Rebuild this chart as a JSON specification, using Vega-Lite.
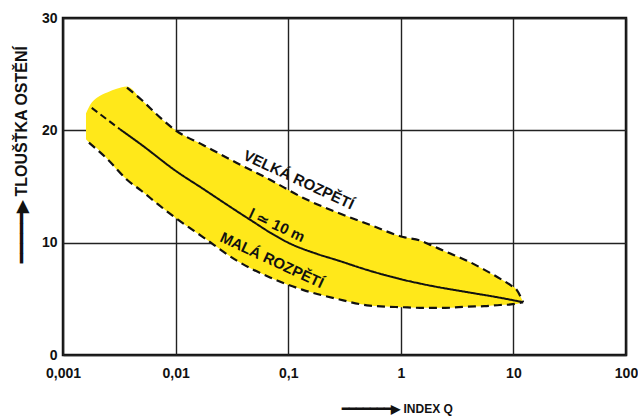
{
  "$schema": "https://vega.github.io/schema/vega-lite/v6.json",
  "width": 563,
  "height": 337,
  "autosize": "none",
  "padding": {"left": 63, "top": 18, "right": 12, "bottom": 61},
  "background": "white",
  "config": {
    "font": "Liberation Sans",
    "view": {"stroke": "#111", "strokeWidth": 2.5},
    "axis": {
      "labelFont": "Liberation Sans", "labelFontWeight": "bold", "labelFontSize": 14, "labelColor": "#111",
      "titleFont": "Liberation Sans", "titleFontWeight": "bold", "titleColor": "#111",
      "grid": true, "gridColor": "#222", "gridWidth": 1.4, "gridOpacity": 1,
      "domain": false, "ticks": false, "zindex": 1, "labelFlush": false
    }
  },
  "datasets": {
    "band": [
      {"x": 0.0016, "lo": 19.2, "hi": 21.5},
      {"x": 0.00175, "lo": 18.8, "hi": 22.3},
      {"x": 0.002, "lo": 18.4, "hi": 22.9},
      {"x": 0.0025, "lo": 17.4, "hi": 23.4},
      {"x": 0.003, "lo": 16.5, "hi": 23.7},
      {"x": 0.0037, "lo": 15.6, "hi": 23.9},
      {"x": 0.005, "lo": 14.6, "hi": 22.7},
      {"x": 0.007, "lo": 13.4, "hi": 21.3},
      {"x": 0.01, "lo": 12.2, "hi": 20.0},
      {"x": 0.0175, "lo": 10.5, "hi": 18.7},
      {"x": 0.035, "lo": 8.4, "hi": 17.1},
      {"x": 0.069, "lo": 6.9, "hi": 15.6},
      {"x": 0.135, "lo": 5.8, "hi": 14.0},
      {"x": 0.27, "lo": 5.0, "hi": 12.7},
      {"x": 0.53, "lo": 4.4, "hi": 11.6},
      {"x": 1.05, "lo": 4.25, "hi": 10.5},
      {"x": 1.48, "lo": 4.2, "hi": 10.2},
      {"x": 1.93, "lo": 4.2, "hi": 9.7},
      {"x": 2.5, "lo": 4.2, "hi": 9.2},
      {"x": 3.87, "lo": 4.3, "hi": 8.4},
      {"x": 5.5, "lo": 4.35, "hi": 7.6},
      {"x": 7.6, "lo": 4.45, "hi": 6.8},
      {"x": 9.5, "lo": 4.5, "hi": 6.2},
      {"x": 10.7, "lo": 4.55, "hi": 5.8},
      {"x": 12.2, "lo": 4.7, "hi": 4.7}
    ],
    "upper": [
      {"x": 0.0037, "y": 23.8},
      {"x": 0.005, "y": 22.7},
      {"x": 0.007, "y": 21.3},
      {"x": 0.01, "y": 20.0},
      {"x": 0.0175, "y": 18.7},
      {"x": 0.035, "y": 17.1},
      {"x": 0.069, "y": 15.6},
      {"x": 0.135, "y": 14.0},
      {"x": 0.27, "y": 12.7},
      {"x": 0.53, "y": 11.6},
      {"x": 1.05, "y": 10.5},
      {"x": 1.48, "y": 10.2},
      {"x": 1.93, "y": 9.7},
      {"x": 2.5, "y": 9.2},
      {"x": 3.87, "y": 8.4},
      {"x": 5.5, "y": 7.6},
      {"x": 7.6, "y": 6.8},
      {"x": 9.5, "y": 6.2},
      {"x": 10.7, "y": 5.8},
      {"x": 12.2, "y": 4.7}
    ],
    "lower": [
      {"x": 0.0017, "y": 18.9},
      {"x": 0.0025, "y": 17.4},
      {"x": 0.0037, "y": 15.6},
      {"x": 0.005, "y": 14.6},
      {"x": 0.007, "y": 13.4},
      {"x": 0.01, "y": 12.2},
      {"x": 0.0175, "y": 10.5},
      {"x": 0.035, "y": 8.4},
      {"x": 0.069, "y": 6.9},
      {"x": 0.135, "y": 5.8},
      {"x": 0.27, "y": 5.0},
      {"x": 0.53, "y": 4.4},
      {"x": 1.05, "y": 4.25},
      {"x": 1.48, "y": 4.2},
      {"x": 2.5, "y": 4.2},
      {"x": 3.87, "y": 4.3},
      {"x": 5.5, "y": 4.35},
      {"x": 7.6, "y": 4.45},
      {"x": 9.5, "y": 4.5},
      {"x": 12.2, "y": 4.7}
    ],
    "center": [
      {"x": 0.0018, "y": 22.0, "part": "a"},
      {"x": 0.0032, "y": 20.1, "part": "a"},
      {"x": 0.0032, "y": 20.1, "part": "b"},
      {"x": 0.005, "y": 18.7, "part": "b"},
      {"x": 0.01, "y": 16.4, "part": "b"},
      {"x": 0.0175, "y": 14.8, "part": "b"},
      {"x": 0.035, "y": 12.8, "part": "b"},
      {"x": 0.05, "y": 11.8, "part": "b"},
      {"x": 0.069, "y": 10.9, "part": "b"},
      {"x": 0.1, "y": 10.0, "part": "b"},
      {"x": 0.18, "y": 9.0, "part": "b"},
      {"x": 0.27, "y": 8.45, "part": "b"},
      {"x": 0.53, "y": 7.5, "part": "b"},
      {"x": 1.0, "y": 6.75, "part": "b"},
      {"x": 2.0, "y": 6.1, "part": "b"},
      {"x": 3.87, "y": 5.6, "part": "b"},
      {"x": 7.6, "y": 5.1, "part": "b"},
      {"x": 12.2, "y": 4.7, "part": "b"}
    ],
    "labels": [
      {"x": 0.124, "y": 15.6, "text": "VELKÁ ROZPĚTÍ"},
      {"x": 0.0794, "y": 11.55, "text": "l ≃ 10 m"},
      {"x": 0.0718, "y": 8.44, "text": "MALÁ ROZPĚTÍ"}
    ]
  },
  "encoding": {
    "x": {
      "field": "x", "type": "quantitative",
      "scale": {"type": "log", "domain": [0.001, 100], "nice": false},
      "axis": {
        "values": [0.001, 0.01, 0.1, 1, 10, 100],
        "labelExpr": "replace(datum.value + '', '.', ',')",
        "labelPadding": 11,
        "title": "━━━━━━━▶ INDEX Q",
        "titleFontSize": 12,
        "titleX": 334, "titleY": 53, "titleAlign": "center", "titleBaseline": "middle"
      }
    }
  },
  "layer": [
    {
      "data": {"name": "band"},
      "mark": {"type": "area", "color": "#FFE81A", "interpolate": "monotone"},
      "encoding": {
        "y": {"field": "hi", "type": "quantitative", "scale": {"domain": [0, 30], "nice": false},
          "axis": {
            "values": [0, 10, 20, 30], "labelPadding": 6,
            "title": "━━━━━▶ TLOUŠŤKA OSTĚNÍ",
            "titleFontSize": 16, "titleAngle": -90,
            "titleX": -42, "titleY": 136, "titleAlign": "center", "titleBaseline": "middle"
          }},
        "y2": {"field": "lo"}
      }
    },
    {
      "data": {"name": "upper"},
      "mark": {"type": "line", "color": "#111", "strokeWidth": 2.2, "strokeDash": [8, 5], "interpolate": "monotone"},
      "encoding": {"y": {"field": "y", "type": "quantitative"}}
    },
    {
      "data": {"name": "lower"},
      "mark": {"type": "line", "color": "#111", "strokeWidth": 2.2, "strokeDash": [8, 5], "interpolate": "monotone"},
      "encoding": {"y": {"field": "y", "type": "quantitative"}}
    },
    {
      "data": {"name": "center"},
      "mark": {"type": "line", "color": "#111", "strokeWidth": 2, "interpolate": "monotone"},
      "encoding": {
        "y": {"field": "y", "type": "quantitative"},
        "detail": {"field": "part"},
        "strokeDash": {"field": "part", "type": "nominal", "scale": {"domain": ["a", "b"], "range": [[7, 4], [1, 0]]}, "legend": null}
      }
    },
    {
      "data": {"name": "labels"},
      "mark": {"type": "text", "font": "Liberation Sans", "fontWeight": "bold", "fontSize": 15, "angle": 25, "align": "center", "baseline": "middle", "color": "#111"},
      "encoding": {
        "y": {"field": "y", "type": "quantitative"},
        "text": {"field": "text"}
      }
    }
  ]
}
